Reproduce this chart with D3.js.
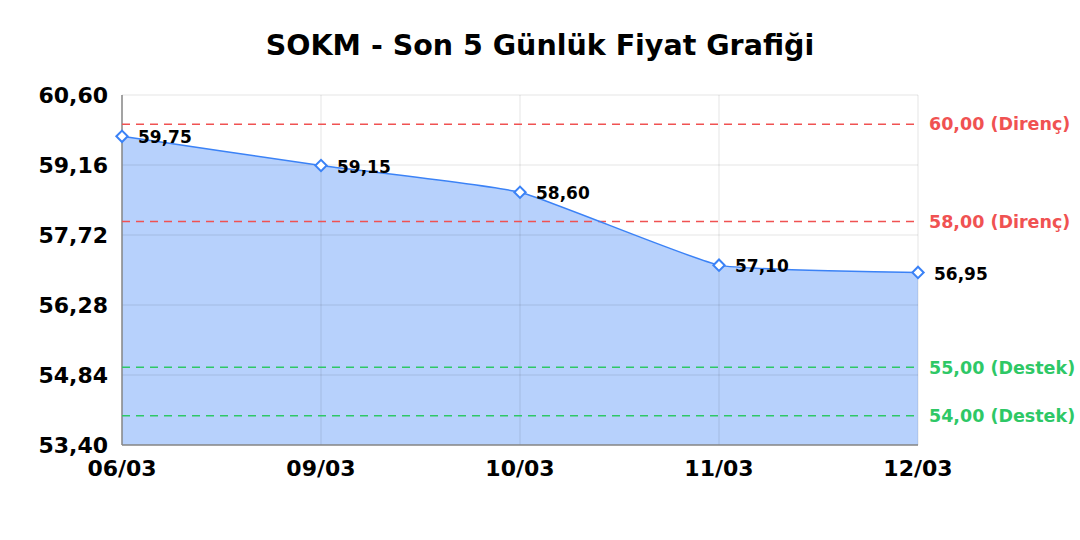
<!DOCTYPE html>
<html>
<head>
<meta charset="utf-8">
<script src="https://cdn.jsdelivr.net/npm/d3@7"></script>
<style>
  body { margin: 0; background: #fff; }
  svg { display: block; font-family: "DejaVu Sans", sans-serif; }
</style>
</head>
<body>
<svg id="chart" width="1080" height="540"></svg>
<script>
// data
const dates = ["06/03", "09/03", "10/03", "11/03", "12/03"];
const prices = [59.75, 59.15, 58.60, 57.10, 56.95];
const yTicks = [53.40, 54.84, 56.28, 57.72, 59.16, 60.60];
const resistance = [60.00, 58.00];
const support = [55.00, 54.00];

const fmt = v => v.toFixed(2).replace('.', ',');

const svg = d3.select('#chart');
const margin = { top: 95, right: 162, bottom: 95, left: 122 };
const width = 1080 - margin.left - margin.right;
const height = 540 - margin.top - margin.bottom;

const x = d3.scalePoint().domain(dates).range([0, width]);
const y = d3.scaleLinear().domain([53.40, 60.60]).range([height, 0]);

const g = svg.append('g').attr('transform', `translate(${margin.left},${margin.top})`);

// title
svg.append('text')
    .attr('x', 540).attr('y', 55)
    .attr('text-anchor', 'middle')
    .style('font-size', '28.5px')
    .style('font-weight', 'bold')
    .text('SOKM - Son 5 Günlük Fiyat Grafiği');

const pts = dates.map((d, i) => ({ d, v: prices[i] }));
const curve = d3.curveCardinal.tension(0.6);

// area fill
const area = d3.area()
    .x(p => x(p.d))
    .y0(height)
    .y1(p => y(p.v))
    .curve(curve);

g.append('path')
    .datum(pts)
    .attr('d', area)
    .attr('fill', 'rgba(59,130,246,0.37)');

// grid
g.append('g')
    .selectAll('line')
    .data(yTicks)
    .join('line')
    .attr('x1', 0).attr('x2', width)
    .attr('y1', d => y(d)).attr('y2', d => y(d))
    .attr('stroke', 'rgba(0,0,0,0.1)');

g.append('g')
    .selectAll('line')
    .data(dates)
    .join('line')
    .attr('x1', d => x(d)).attr('x2', d => x(d))
    .attr('y1', 0).attr('y2', height)
    .attr('stroke', 'rgba(0,0,0,0.1)');

// axes lines
g.append('line')
    .attr('x1', 0).attr('x2', 0).attr('y1', 0).attr('y2', height)
    .attr('stroke', '#888').attr('stroke-width', 1.5);
g.append('line')
    .attr('x1', 0).attr('x2', width).attr('y1', height).attr('y2', height)
    .attr('stroke', '#888').attr('stroke-width', 1.5);

// y tick labels
g.append('g')
    .selectAll('text')
    .data(yTicks)
    .join('text')
    .attr('x', -14)
    .attr('y', d => y(d))
    .attr('dy', '0.36em')
    .attr('text-anchor', 'end')
    .style('font-size', '22px')
    .style('font-weight', 'bold')
    .text(d => fmt(d));

// x tick labels
g.append('g')
    .selectAll('text')
    .data(dates)
    .join('text')
    .attr('x', d => x(d))
    .attr('y', height + 31)
    .attr('text-anchor', 'middle')
    .style('font-size', '22px')
    .style('font-weight', 'bold')
    .text(d => d);

// support / resistance levels
const levels = resistance.map(v => ({ v, label: 'Direnç', color: '#f05252' }))
    .concat(support.map(v => ({ v, label: 'Destek', color: '#2ec866' })));

g.append('g')
    .selectAll('line')
    .data(levels)
    .join('line')
    .attr('x1', 0).attr('x2', width)
    .attr('y1', d => y(d.v)).attr('y2', d => y(d.v))
    .attr('stroke', d => d.color)
    .attr('stroke-width', 1.5)
    .attr('stroke-dasharray', '8,6');

g.append('g')
    .selectAll('text')
    .data(levels)
    .join('text')
    .attr('x', width + 11)
    .attr('y', d => y(d.v))
    .attr('dy', '0.36em')
    .attr('fill', d => d.color)
    .style('font-size', '17.5px')
    .style('font-weight', 'bold')
    .text(d => `${fmt(d.v)} (${d.label})`);

// price line
const line = d3.line()
    .x(p => x(p.d))
    .y(p => y(p.v))
    .curve(curve);

g.append('path')
    .datum(pts)
    .attr('d', line)
    .attr('fill', 'none')
    .attr('stroke', '#3b82f6')
    .attr('stroke-width', 1.5);

// markers
g.append('g')
    .selectAll('rect')
    .data(pts)
    .join('rect')
    .attr('x', -4).attr('y', -4)
    .attr('width', 8).attr('height', 8)
    .attr('transform', p => `translate(${x(p.d)},${y(p.v)}) rotate(45)`)
    .attr('fill', '#fff')
    .attr('stroke', '#3b82f6')
    .attr('stroke-width', 2);

// value labels
g.append('g')
    .selectAll('text')
    .data(pts)
    .join('text')
    .attr('x', p => x(p.d) + 16)
    .attr('y', p => y(p.v) + 1)
    .attr('dy', '0.36em')
    .style('font-size', '17px')
    .style('font-weight', 'bold')
    .text(p => fmt(p.v));
</script>
</body>
</html>
